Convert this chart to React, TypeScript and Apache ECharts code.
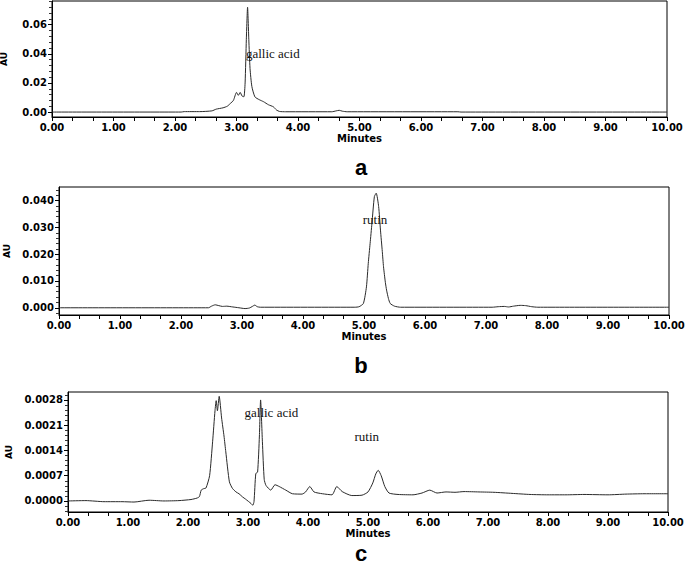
import { useEffect, useRef } from "react";
import * as echarts from "echarts";

// Panel a: retention time (min), absorbance (AU)
const traceA: [number, number][] = [
  [0, 0], [2.1, 0], [2.15, 0.0003], [2.4, 0.0003], [2.6, 0.0008], [2.67, 0.002],
  [2.78, 0.0029], [2.85, 0.004], [2.9, 0.0059], [2.95, 0.008], [3.0, 0.0135],
  [3.03, 0.0115], [3.06, 0.0135], [3.09, 0.011], [3.12, 0.0105], [3.14, 0.02],
  [3.16, 0.05], [3.18, 0.072], [3.2, 0.05], [3.22, 0.03], [3.25, 0.0175],
  [3.3, 0.0104], [3.37, 0.0085], [3.44, 0.0071], [3.52, 0.005], [3.6, 0.0036],
  [3.65, 0.0014], [3.7, 0.0004], [3.8, 0.0002], [4.55, 0.0002], [4.62, 0.0008],
  [4.67, 0.0012], [4.72, 0.0006], [4.8, 0.0002], [6.6, 0.0002], [6.65, 0], [10, 0],
];

// Panel b
const traceB: [number, number][] = [
  [0, 0], [2.45, 0], [2.5, 0.0006], [2.56, 0.0011], [2.62, 0.0008], [2.68, 0.0005],
  [2.75, 0.0006], [2.85, 0.0003], [2.95, 0.0], [3.05, -0.0003], [3.12, -0.0001],
  [3.17, 0.0005], [3.21, 0.001], [3.25, 0.0004], [3.3, 0.0002], [4.85, 0.0002],
  [4.92, 0.0004], [4.99, 0.0016], [5.04, 0.0078], [5.07, 0.0166], [5.1, 0.024],
  [5.13, 0.0315], [5.17, 0.0415], [5.2, 0.0428], [5.24, 0.0378], [5.27, 0.029],
  [5.3, 0.021], [5.32, 0.0153], [5.35, 0.0095], [5.37, 0.0066], [5.4, 0.0035],
  [5.43, 0.0016], [5.5, 0.0006], [5.6, 0.0002], [7.1, 0.0002], [7.2, 0.0004],
  [7.3, 0.0005], [7.37, 0.0003], [7.45, 0.0006], [7.56, 0.0009], [7.65, 0.0008],
  [7.75, 0.0004], [7.85, 0.0002], [10, 0.0002],
];

// Panel c
const traceC: [number, number][] = [
  [0, 0], [0.3, 0.00001], [0.6, -0.00002], [0.9, -0.00002], [1.1, -0.00003],
  [1.35, 0.00002], [1.6, 0.0], [1.85, 0.00001], [2.05, 0.00004], [2.15, 0.00008],
  [2.19, 0.00012], [2.22, 0.0003], [2.26, 0.00034], [2.3, 0.00036], [2.36, 0.0007],
  [2.41, 0.00164], [2.45, 0.0025], [2.47, 0.00278], [2.49, 0.0025], [2.52, 0.0029],
  [2.56, 0.0023], [2.6, 0.0018], [2.63, 0.00136], [2.69, 0.00053], [2.74, 0.00035],
  [2.8, 0.00025], [2.85, 0.0002], [2.91, 0.00011], [2.96, 0.00005], [3.05, -0.00007],
  [3.08, -0.00012], [3.1, -0.00002], [3.13, 0.00076], [3.16, 0.0008], [3.19, 0.0018],
  [3.21, 0.0028], [3.24, 0.00164], [3.27, 0.0006], [3.3, 0.00043], [3.38, 0.0003],
  [3.45, 0.00045], [3.52, 0.0004], [3.63, 0.0003], [3.74, 0.0002], [3.9, 0.00019],
  [3.96, 0.00025], [4.03, 0.0004], [4.1, 0.00025], [4.24, 0.0002], [4.4, 0.00017],
  [4.48, 0.0004], [4.57, 0.00026], [4.73, 0.00015], [4.9, 0.00016], [5.0, 0.00025],
  [5.08, 0.0005], [5.13, 0.00075], [5.17, 0.00085], [5.22, 0.0007], [5.28, 0.0004],
  [5.35, 0.00022], [5.5, 0.00018], [5.75, 0.00017], [5.9, 0.00022], [6.03, 0.0003],
  [6.15, 0.00022], [6.3, 0.00025], [6.45, 0.00024], [6.6, 0.00026], [6.85, 0.00025],
  [7.1, 0.00024], [7.4, 0.00021], [7.7, 0.00018], [8.0, 0.00017], [8.3, 0.00017],
  [8.6, 0.00018], [9.0, 0.00017], [9.3, 0.00019], [9.6, 0.0002], [10, 0.0002],
];

const yMajorA = [0, 0.02, 0.04, 0.06];
const yMajorB = [0, 0.01, 0.02, 0.03, 0.04];
const yMajorC = [0, 0.0007, 0.0014, 0.0021, 0.0028];

const panelLetters = ["a", "b", "c"];
const peakLabelsA = [{ name: "gallic acid", coord: [3.59, 0.04] }];
const peakLabelsB = [{ name: "rutin", coord: [5.18, 0.0328] }];
const peakLabelsC = [
  { name: "gallic acid", coord: [3.39, 0.00244] },
  { name: "rutin", coord: [4.98, 0.00178] },
];

function minorTicks(step: number, lo: number, hi: number): number[] {
  const out: number[] = [];
  const k0 = Math.ceil(lo / step - 1e-9);
  const k1 = Math.floor(hi / step + 1e-9);
  for (let k = k0; k <= k1; k++) {
    if (k % 5 !== 0) out.push(+(k * step).toFixed(8));
  }
  return out;
}

const SANS = "DejaVu Sans";
const SERIF = "Liberation Serif";

export default function App() {
  const ref = useRef<HTMLDivElement>(null);
  useEffect(() => {
    if (!ref.current) return;
    const chart = echarts.init(ref.current, null, { renderer: "svg" });

    const grids = [
      { left: 52, top: 1, width: 615, height: 116 },
      { left: 59, top: 187, width: 610, height: 128 },
      { left: 68, top: 392, width: 600, height: 120 },
    ];
    const yRanges = [
      { min: -0.0034, max: 0.0763, major: yMajorA, step: 0.004, dec: 2, gap: 44 },
      { min: -0.0027, max: 0.0451, major: yMajorB, step: 0.002, dec: 3, gap: 48 },
      { min: -0.000306, max: 0.00302, major: yMajorC, step: 0.00014, dec: 4, gap: 49 },
    ];
    const traces = [traceA, traceB, traceC];
    const labels = [peakLabelsA, peakLabelsB, peakLabelsC];

    const xAxes = grids.map((_, i) => ({
      type: "value",
      gridIndex: i,
      min: 0,
      max: 10,
      interval: 1,
      name: "Minutes",
      nameLocation: "middle",
      nameGap: 16,
      nameTextStyle: { fontFamily: SANS, fontSize: 10, fontWeight: "bold", color: "#000" },
      axisLine: { show: true, onZero: false, lineStyle: { color: "#000", width: 1 } },
      axisTick: { show: true, inside: false, length: 4, lineStyle: { color: "#000" } },
      minorTick: { show: true, splitNumber: 3, length: 4, lineStyle: { color: "#000" } },
      splitLine: { show: false },
      minorSplitLine: { show: false },
      axisLabel: {
        margin: 5,
        fontFamily: SANS,
        fontSize: 10,
        fontWeight: "bold",
        color: "#000",
        formatter: (v: number) => v.toFixed(2),
      },
    }));

    const yAxes: any[] = [];
    yRanges.forEach((r, i) => {
      yAxes.push({
        type: "value",
        gridIndex: i,
        position: "left",
        min: r.min,
        max: r.max,
        name: "AU",
        nameLocation: "middle",
        nameGap: r.gap,
        nameTextStyle: { fontFamily: SANS, fontSize: 9, fontWeight: "bold", color: "#000" },
        axisLine: { show: true, onZero: false, lineStyle: { color: "#000", width: 1 } },
        axisTick: { show: true, inside: false, length: 4, customValues: r.major, lineStyle: { color: "#000" } },
        splitLine: { show: false },
        axisLabel: {
          margin: 5,
          customValues: r.major,
          fontFamily: SANS,
          fontSize: 10,
          fontWeight: "bold",
          color: "#000",
          formatter: (v: number) => v.toFixed(r.dec),
        },
      });
      yAxes.push({
        type: "value",
        gridIndex: i,
        position: "left",
        offset: 0,
        min: r.min,
        max: r.max,
        axisLine: { show: false, onZero: false },
        axisTick: {
          show: true,
          inside: false,
          length: 3,
          customValues: minorTicks(r.step, r.min, r.max),
          lineStyle: { color: "#333" },
        },
        axisLabel: { show: false },
        splitLine: { show: false },
      });
    });

    const series = traces.map((t, i) => ({
      type: "line",
      xAxisIndex: i,
      yAxisIndex: i * 2,
      data: t,
      showSymbol: false,
      symbol: "none",
      smooth: 0.2,
      lineStyle: { color: "#2a2a2a", width: 1 },
      silent: true,
      markPoint: {
        symbol: "rect",
        symbolSize: 1,
        itemStyle: { color: "rgba(0,0,0,0)" },
        label: {
          show: true,
          position: "inside",
          fontFamily: SERIF,
          fontSize: 13,
          color: "#111",
          formatter: (p: any) => p.name,
        },
        data: labels[i].map((l) => ({ name: l.name, coord: l.coord })),
      },
    }));

    const letterY = [167, 365, 553];
    const graphic = panelLetters.map((s, i) => ({
      type: "text",
      x: 361,
      y: letterY[i],
      style: {
        text: s,
        fontFamily: "Liberation Sans",
        fontSize: 22,
        fontWeight: "bold",
        fill: "#000",
        textAlign: "center",
        textVerticalAlign: "middle",
      },
    }));

    chart.setOption({
      animation: false,
      backgroundColor: "#fff",
      grid: grids.map((g) => ({
        ...g,
        show: true,
        borderColor: "#000",
        borderWidth: 1,
        backgroundColor: "transparent",
        containLabel: false,
        outerBoundsMode: "none",
      })),
      xAxis: xAxes,
      yAxis: yAxes,
      series,
      graphic,
    } as any);

    return () => chart.dispose();
  }, []);

  return (
    <div
      ref={ref}
      style={{ position: "fixed", left: 0, top: 0, width: 685, height: 566, background: "#fff" }}
    />
  );
}
